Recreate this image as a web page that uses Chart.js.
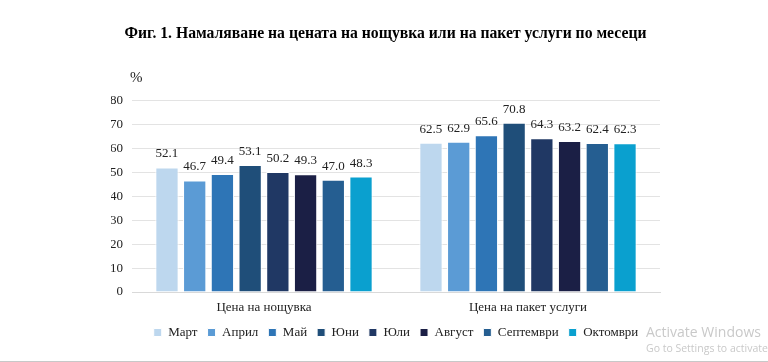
<!DOCTYPE html>
<html>
<head>
<meta charset="utf-8">
<script src="https://cdn.jsdelivr.net/npm/chart.js@4.4.1/dist/chart.umd.min.js"></script>
<style>
  html, body { margin: 0; padding: 0; background: #fff; }
  #wrap { position: relative; width: 768px; height: 362px; border-bottom: 1px solid #c8c8c8; box-sizing: border-box; }
  .wm { position: absolute; color: #c9c9c9; font-family: 'Open Sans', sans-serif; white-space: nowrap; }
</style>
</head>
<body>
<div id="wrap">
  <canvas id="chart" width="768" height="361"></canvas>
  <div class="wm" style="left:646px; top:322px; font-size:14px;">Activate Windows</div>
  <div class="wm" style="left:646px; top:341px; font-size:10.5px;">Go to Settings to activate Windows.</div>
</div>
<script>
const categories = ['Цена на нощувка', 'Цена на пакет услуги'];
const months = ['Март', 'Април', 'Май', 'Юни', 'Юли', 'Август', 'Септември', 'Октомври'];
const values = [
  [52.1, 62.5],
  [46.7, 62.9],
  [49.4, 65.6],
  [53.1, 70.8],
  [50.2, 64.3],
  [49.3, 63.2],
  [47.0, 62.4],
  [48.3, 62.3]
];
const colors = ['#bdd7ee', '#5b9bd5', '#2e75b6', '#1f4e79', '#203864', '#1b1f45', '#255e91', '#0aa0cf'];
const yTicks = [0, 10, 20, 30, 40, 50, 60, 70, 80];

const serif = "'Liberation Serif', 'Times New Roman', serif";

// value labels above bars + "%" unit label
const extras = {
  id: 'extras',
  afterDatasetsDraw(chart) {
    const ctx = chart.ctx;
    ctx.save();
    ctx.fillStyle = '#222';
    ctx.font = '13px ' + serif;
    ctx.textAlign = 'center';
    ctx.textBaseline = 'bottom';
    chart.data.datasets.forEach((ds, i) => {
      chart.getDatasetMeta(i).data.forEach((bar, j) => {
        ctx.fillText(ds.data[j].toFixed(1), bar.x, bar.y - 7);
      });
    });
    const y = chart.scales.y;
    ctx.font = '15px ' + serif;
    ctx.textAlign = 'left';
    ctx.textBaseline = 'middle';
    ctx.fillText('%', y.right - 2, y.top - 23);
    ctx.restore();
  }
};

new Chart(document.getElementById('chart'), {
  type: 'bar',
  data: {
    labels: categories,
    datasets: months.map((m, i) => ({
      label: m,
      data: values[i],
      backgroundColor: colors[i],
      borderColor: '#ffffff',
      borderWidth: 1,
      categoryPercentage: 0.84,
      barPercentage: 0.84
    }))
  },
  options: {
    responsive: false,
    animation: false,
    layout: { padding: { left: 111, right: 108, top: 0, bottom: 12 } },
    plugins: {
      title: {
        display: true,
        text: 'Фиг. 1. Намаляване на цената на нощувка или на пакет услуги по месеци',
        color: '#000',
        font: { family: serif, size: 15.7, weight: 'bold' },
        padding: { top: 25, bottom: 57 }
      },
      legend: {
        position: 'bottom',
        fullSize: false,
        labels: {
          color: '#222',
          font: { family: serif, size: 13 },
          boxWidth: 8,
          boxHeight: 8,
          padding: 10
        }
      },
      tooltip: { enabled: false }
    },
    scales: {
      x: {
        afterFit(scale) { scale.height = 24; },
        grid: { display: false, drawTicks: false },
        border: { color: '#d9d9d9' },
        ticks: { color: '#222', font: { family: serif, size: 13 }, padding: 8 }
      },
      y: {
        min: 0,
        max: 80,
        afterFit(scale) { scale.width = 21; },
        afterBuildTicks(scale) { scale.ticks = yTicks.map(v => ({ value: v })); },
        grid: { color: '#e3e3e3', drawTicks: false },
        border: { display: false },
        ticks: { color: '#222', font: { family: serif, size: 13 }, padding: 9 }
      }
    }
  },
  plugins: [extras]
});
</script>
</body>
</html>
